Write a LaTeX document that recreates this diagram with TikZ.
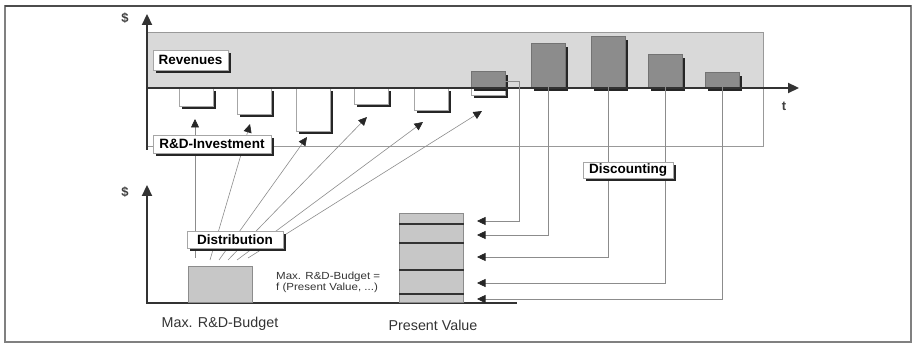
\documentclass[tikz,border=0pt]{standalone}
\usepackage{fontspec}
\setmainfont{Liberation Sans}
\usetikzlibrary{arrows.meta,shadows}
\begin{document}
\begin{tikzpicture}[x=1pt,y=-1pt,
  axis/.style={line width=2.2pt, draw=black!80},
  axisarrow/.style={axis, -{Triangle[length=11pt,width=10pt]}},
  link/.style={draw=black!45, line width=0.6pt},
  linkarrow/.style={link, -{Triangle[length=8.5pt,width=8pt,color=black!85]}},
  hardshadow/.style={drop shadow={shadow xshift=2.8pt, shadow yshift=-2.8pt, fill=black!85, opacity=1}},
  tag/.style={draw=black!35, fill=white, line width=0.5pt, inner sep=0pt,
    font=\bfseries\fontsize{13.5}{15}\selectfont, hardshadow},
  negbar/.style={draw=black!35, fill=white, line width=0.5pt, inner sep=0pt,
    minimum width=34pt, anchor=north, hardshadow},
  posbar/.style={draw=black!55, fill=black!45, line width=0.5pt, inner sep=0pt,
    minimum width=34pt, anchor=south, hardshadow},
  block/.style={draw=black!45, fill=black!22, line width=0.5pt, inner sep=0pt, anchor=south west},
  sep/.style={draw=black!80, line width=1.2pt},
  axislabel/.style={font=\bfseries\fontsize{13}{13}\selectfont, text=black!75},
  caption/.style={font=\fontsize{14.3}{16}\selectfont, text=black!80},
]
\useasboundingbox (0,0) rectangle (914,344);

% outer frame
\draw[draw=black!50, line width=1.2pt] (5,6) rectangle (911,342);
\draw[draw=black!70, line width=1.6pt] (5,6) -- (911,6);

% time-line panel: shaded revenue band and thin outline
\fill[black!15] (147,32) rectangle (763,88);
\draw[draw=black!40, line width=0.6pt] (147,32) rectangle (763,146);

% R&D investments (below the time axis)
\node[negbar, minimum height=18pt] (n1) at (196.5,88) {};
\node[negbar, minimum height=26pt] (n2) at (254.5,88) {};
\node[negbar, minimum height=43pt] (n3) at (313.5,88) {};
\node[negbar, minimum height=16pt] (n4) at (371.5,88) {};
\node[negbar, minimum height=22pt] (n5) at (431,88) {};
\node[negbar, minimum height=7pt]  (n6) at (488.5,88) {};

% revenues (above the time axis)
\node[posbar, minimum height=16pt] (p6)  at (488.5,88) {};
\node[posbar, minimum height=44pt] (p7)  at (548,88) {};
\node[posbar, minimum height=51pt] (p8)  at (608,88) {};
\node[posbar, minimum height=33pt] (p9)  at (665,88) {};
\node[posbar, minimum height=15pt] (p10) at (722.5,88) {};

% upper axes
\draw[axisarrow] (147,150) -- (147,14);
\draw[axisarrow] (146,88) -- (799,88);
\node[axislabel] (dollarA) at (125,18) {\$};
\node[axislabel] (tlabel) at (784,106) {t};

% lower axes
\draw[axisarrow] (147,304) -- (147,185);
\draw[axis] (146,303) -- (517,303);
\node[axislabel] (dollarB) at (125,192) {\$};

% maximum budget and present value stack
\node[block, minimum width=64pt, minimum height=36pt] (budget) at (188,303) {};
\node[block, minimum width=64pt, minimum height=89pt] (pv) at (399,303) {};
\draw[sep] (pv.west |- 0,224) -- (pv.east |- 0,224);
\draw[sep] (pv.west |- 0,243) -- (pv.east |- 0,243);
\draw[sep] (pv.west |- 0,270) -- (pv.east |- 0,270);
\draw[sep] (pv.west |- 0,294) -- (pv.east |- 0,294);

% distribution of the budget over the investments
\coordinate (s1) at (195,258);
\coordinate (s2) at (210,260);
\coordinate (s3) at (219,260);
\coordinate (s4) at (228,260);
\coordinate (s5) at (237,260);
\coordinate (s6) at (248,258);
\coordinate (d1) at (195,119);
\coordinate (d2) at (250,124);
\coordinate (d3) at (307,137);
\coordinate (d4) at (367,117);
\coordinate (d5) at (423,122);
\coordinate (d6) at (482,111);
\draw[linkarrow] (s1) -- (d1);
\draw[linkarrow] (s2) -- (d2);
\draw[linkarrow] (s3) -- (d3);
\draw[linkarrow] (s4) -- (d4);
\draw[linkarrow] (s5) -- (d5);
\draw[linkarrow] (s6) -- (d6);

% discounting of the revenues into the present value
\coordinate (t6)  at (477,221);
\coordinate (t7)  at (477,235);
\coordinate (t8)  at (477,257);
\coordinate (t9)  at (477,283);
\coordinate (t10) at (477,299);
\draw[linkarrow] (p6.center |- 0,81) -- (519,81) -- (519,0 |- t6) -- (t6);
\draw[linkarrow] (p7.center |- 0,82) -- (p7.center |- t7) -- (t7);
\draw[linkarrow] (p8.center |- 0,82) -- (p8.center |- t8) -- (t8);
\draw[linkarrow] (p9.center |- 0,82) -- (p9.center |- t9) -- (t9);
\draw[linkarrow] (p10.center |- 0,82) -- (p10.center |- t10) -- (t10);

% labels
\node[tag, minimum width=75pt, minimum height=20pt] (rev) at (190.5,60) {Revenues};
\node[tag, minimum width=118pt, minimum height=18pt] (inv) at (212,144) {R\&D-Investment};
\node[tag, minimum width=96pt, minimum height=17pt] (dist) at (235,239.5) {Distribution};
\node[tag, minimum width=90pt, minimum height=16pt] (disc) at (628,170) {Discounting};

\node[anchor=west, align=left, inner sep=0pt, text=black!80,
  font=\fontsize{10.3}{11}\selectfont] (formula) at (276,282)
  {\scalebox{1.12}[1]{Max. R\&D-Budget =}\\\scalebox{1.12}[1]{f (Present Value, ...)}};

\node[caption] (capA) at (220,324) {Max. R\&D-Budget};
\node[caption] (capB) at (433,325) {Present Value};
\end{tikzpicture}
\end{document}
